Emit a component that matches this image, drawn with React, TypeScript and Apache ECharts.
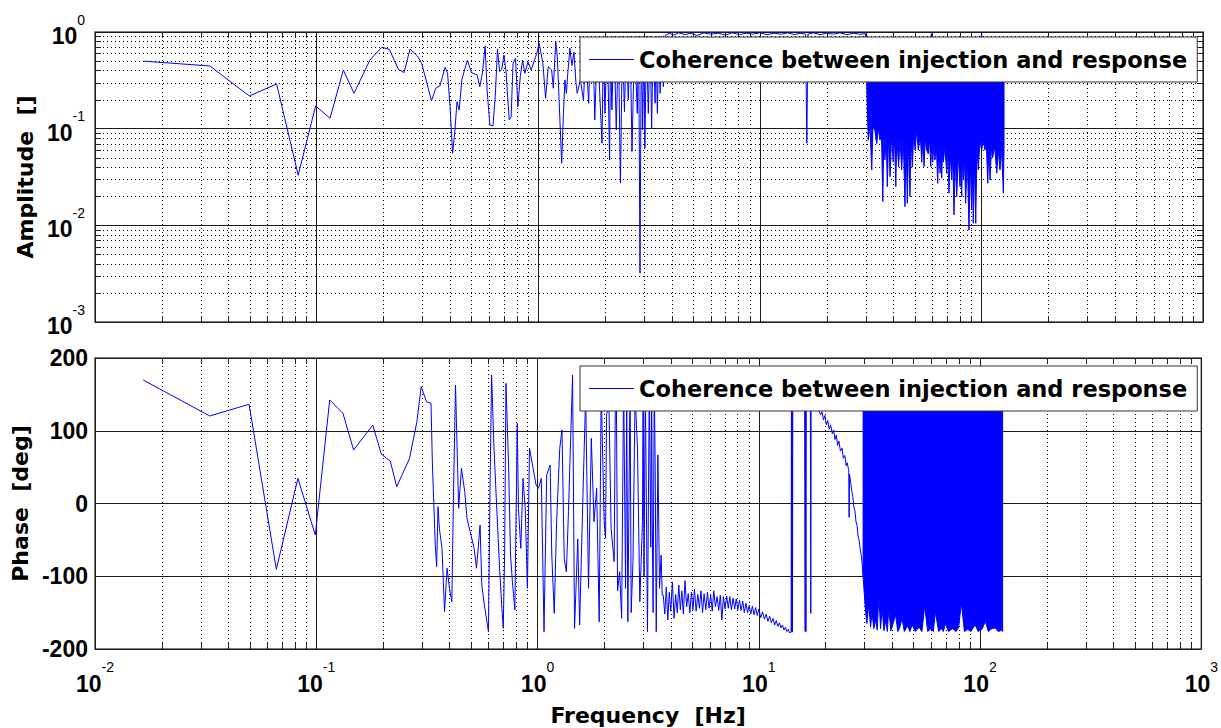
import React, { useEffect, useRef } from 'react';
import * as echarts from 'echarts';

const SERIES_NAME = 'Coherence between injection and response';
const X_TITLE = 'Frequency  [Hz]';
const AMP_TITLE = 'Amplitude  []';
const PHASE_TITLE = 'Phase  [deg]';

// axis ticks
const xDecades = [0.01, 0.1, 1, 10, 100, 1000];
const ampDecades = [0.001, 0.01, 0.1, 1];
const minorFactors = [2, 3, 4, 5, 6, 7, 8, 9];
const phaseRange = [-200, 200];
const phaseStep = 100;

// amplitude (coherence) trace: [frequency Hz, amplitude]
const amplitudeTrace: [number, number][] = [
  [0.0165, 0.5], [0.033, 0.445], [0.0497, 0.218], [0.066, 0.29], [0.0826, 0.033], [0.099, 0.172],
  [0.115, 0.128], [0.132, 0.405], [0.1475, 0.232], [0.174, 0.513], [0.197, 0.695], [0.213, 0.662],
  [0.234, 0.411], [0.248, 0.38], [0.264, 0.667], [0.285, 0.565], [0.298, 0.474], [0.33, 0.195],
  [0.345, 0.262], [0.36, 0.277], [0.38, 0.431], [0.39, 0.374], [0.4, 0.169], [0.411, 0.0557],
  [0.421, 0.097], [0.43, 0.19], [0.44, 0.156], [0.452, 0.319], [0.479, 0.513], [0.5, 0.38],
  [0.53, 0.36], [0.545, 0.272], [0.56, 0.374], [0.576, 0.717], [0.588, 0.252], [0.605, 0.109],
  [0.625, 0.107], [0.64, 0.215], [0.655, 0.662], [0.67, 0.389], [0.685, 0.411], [0.7, 0.578],
  [0.715, 0.405], [0.74, 0.123], [0.755, 0.133], [0.77, 0.474], [0.79, 0.535], [0.81, 0.169],
  [0.83, 0.345], [0.85, 0.513], [0.87, 0.374], [0.9, 0.493], [0.93, 0.405], [0.985, 0.6],
  [1.01, 0.764], [1.05, 0.474], [1.08, 0.206], [1.11, 0.438], [1.15, 0.405], [1.17, 0.262],
  [1.2, 0.794], [1.22, 0.555], [1.276, 0.0439], [1.3, 0.144], [1.32, 0.319], [1.34, 0.232],
  [1.36, 0.374], [1.39, 0.678], [1.42, 0.45], [1.45, 0.62], [1.48, 0.3], [1.5, 0.232], [1.55, 0.32],
  [1.6, 0.198], [1.64, 0.6], [1.69, 0.183], [1.72, 0.88], [1.78, 0.4], [1.8, 0.123], [1.85, 0.8],
  [1.94, 0.0707], [1.97, 0.85], [2.0, 0.144], [2.05, 0.9], [2.1, 0.0474], [2.12, 0.8], [2.15, 0.156],
  [2.2, 0.9], [2.25, 0.097], [2.3, 0.85], [2.35, 0.0273], [2.4, 0.9], [2.45, 0.15], [2.5, 0.85],
  [2.55, 0.198], [2.6, 0.9], [2.65, 0.058], [2.72, 0.88], [2.8, 0.144], [2.84, 0.9], [2.88, 0.0032],
  [2.92, 0.9], [2.96, 0.097], [3.0, 0.85], [3.03, 0.063], [3.08, 0.9], [3.14, 0.144], [3.2, 0.9],
  [3.25, 0.101], [3.3, 0.85], [3.37, 0.183], [3.4, 0.9], [3.45, 0.144], [3.5, 0.9], [3.55, 0.232],
  [3.6, 0.9], [3.67, 0.272], [3.75, 0.92], [3.9, 0.97], [4.1, 0.93], [4.3, 0.98], [4.6, 0.94],
  [4.9, 0.97], [5.2, 0.92], [5.6, 0.98], [6.0, 0.95], [6.5, 0.97], [7.0, 0.93], [7.5, 0.98],
  [8.1, 0.94], [8.7, 0.97], [9.3, 0.95], [10, 0.98], [10.8, 0.94], [11.6, 0.97], [12.5, 0.95],
  [13.4, 0.98], [14.3, 0.94], [15.2, 0.97], [16.1, 0.95], [16.3, 0.0706], [16.5, 0.95], [17.5, 0.98],
  [18.7, 0.94], [20, 0.97], [21.5, 0.95], [23, 0.98], [24.7, 0.94], [26.5, 0.97], [28.3, 0.95],
  [30, 0.96], [30.6, 0.14],
];

// dense amplitude region (30-127 Hz): upper and lower envelopes
const amplitudeBandTop: [number, number][] = [
  [30.6, 0.86], [59.0, 0.86], [59.5, 0.96], [60.0, 0.86], [99.5, 0.86], [100.2, 0.97], [100.8, 0.86], [126.5, 0.86],
];
const amplitudeBandBottom: [number, number][] = [
  [30.6, 0.14], [30.9, 0.076], [31.4, 0.11], [32.0, 0.0374], [32.4, 0.105], [33.1, 0.095], [33.7, 0.07],
  [34.3, 0.1], [34.9, 0.076], [35.4, 0.095], [35.9, 0.0176], [36.3, 0.09], [36.7, 0.0475], [37.2, 0.09],
  [37.6, 0.0251], [38.2, 0.09], [38.7, 0.0319], [39.3, 0.085], [40.0, 0.045], [40.5, 0.09], [41.1, 0.0251],
  [41.5, 0.085], [42.3, 0.04], [42.9, 0.08], [43.7, 0.0374], [44.4, 0.085], [45.2, 0.0156], [45.7, 0.08],
  [46.3, 0.0169], [46.9, 0.075], [47.6, 0.0198], [48.2, 0.08], [48.8, 0.04], [49.5, 0.09], [50.2, 0.06],
  [51.0, 0.095], [51.9, 0.06], [53.0, 0.085], [53.8, 0.045], [54.5, 0.08], [55.1, 0.0405], [55.8, 0.08],
  [56.6, 0.06], [57.6, 0.055], [58.3, 0.08], [59.1, 0.0405], [59.7, 0.075], [60.3, 0.045], [61.0, 0.07],
  [61.7, 0.0475], [62.6, 0.07], [63.5, 0.0272], [64.3, 0.065], [65.1, 0.0346], [65.7, 0.065], [66.2, 0.0307],
  [66.8, 0.06], [67.3, 0.045], [68.5, 0.065], [69.7, 0.0346], [70.5, 0.06], [71.4, 0.0215], [72.4, 0.055],
  [73.5, 0.0295], [74.3, 0.055], [75.2, 0.0128], [76.3, 0.05], [77.4, 0.0198], [78.7, 0.055], [80.1, 0.0251],
  [80.8, 0.05], [81.5, 0.0198], [82.2, 0.05], [82.9, 0.03], [83.9, 0.05], [84.9, 0.0169], [86.4, 0.05],
  [87.9, 0.0089], [89.1, 0.045], [90.4, 0.0144], [91.1, 0.045], [91.9, 0.0105], [93.1, 0.045], [94.3, 0.0105],
  [95.5, 0.065], [96.8, 0.0374], [98.5, 0.075], [100.3, 0.06], [102.0, 0.075], [103.8, 0.06], [105.3, 0.07],
  [106.8, 0.0272], [108.1, 0.065], [109.4, 0.0295], [111.0, 0.065], [112.4, 0.05], [114.8, 0.065],
  [117.3, 0.0346], [119.3, 0.06], [121.3, 0.0374], [123.4, 0.06], [125.6, 0.0215], [126.5, 0.06],
];

// phase trace: [frequency Hz, phase deg]
const phaseTrace: [number, number][] = [
  [0.0165, 169.8], [0.033, 120.3], [0.0497, 136.4], [0.066, -90.5], [0.0826, 34.6], [0.099, -43.3],
  [0.115, 142.3], [0.132, 124], [0.1475, 73.5], [0.18, 107.9], [0.197, 67.6], [0.216, 58.4],
  [0.231, 23.1], [0.264, 62.1], [0.285, 112.4], [0.298, 160.6], [0.315, 139.9], [0.33, 137.7],
  [0.335, 52.9], [0.345, -57], [0.35, -86.8], [0.355, -4.4], [0.36, -34.1], [0.37, -61.6],
  [0.38, -148.7], [0.39, -89], [0.4, -116.6], [0.41, -135], [0.417, 11.7], [0.426, 162.9],
  [0.43, 112.4], [0.44, -6.6], [0.453, 48.4], [0.469, 16.2], [0.48, -20.3], [0.496, -38.8],
  [0.517, -61.6], [0.53, -89], [0.55, -29.6], [0.56, -112], [0.575, -139.5], [0.6, -176.2],
  [0.61, 20.9], [0.62, 176.6], [0.635, 80.4], [0.65, 11.7], [0.675, -93.8], [0.69, -144.1],
  [0.7, -171.6], [0.71, -70.8], [0.72, 165.2], [0.74, 52.9], [0.755, -70.8], [0.77, -107.5],
  [0.79, -146.4], [0.81, 110.2], [0.82, -6.6], [0.84, -61.6], [0.86, 34.6], [0.88, -6.6],
  [0.9, -116.6], [0.92, 75.9], [0.985, 25.4], [1.01, 20.9], [1.04, 34.6], [1.07, -176.2],
  [1.1, 39.2], [1.14, 52.9], [1.16, -70.8], [1.19, -151], [1.22, -25], [1.26, 75.9], [1.29, 101],
  [1.32, -75.3], [1.35, -93.8], [1.38, -11.3], [1.44, 176.6], [1.47, -171.6], [1.52, -48.8],
  [1.55, -167], [1.6, -2], [1.65, 149.1], [1.7, -116.6], [1.75, 89.6], [1.8, -25], [1.85, 20.9],
  [1.9, -162.5], [1.94, 158.4], [2.0, -25], [2.03, -47.8], [2.05, 120], [2.1, 144.6], [2.15, -34.1],
  [2.22, -80], [2.25, 160], [2.27, 170], [2.3, -120], [2.35, -93.8], [2.4, -157.8], [2.45, 170],
  [2.5, -116.6], [2.53, 150], [2.56, -162.5], [2.62, 170], [2.65, -150], [2.7, -80], [2.76, 150],
  [2.83, 75.9], [2.9, -135], [2.98, -25], [3.0, 160], [3.03, -100], [3.07, 170], [3.14, -176.2],
  [3.2, 170], [3.25, -60], [3.28, 165], [3.3, -25], [3.33, -150], [3.37, 170], [3.4, 60],
  [3.44, -176.2], [3.5, 66.7], [3.56, -116.6], [3.62, -70.8], [3.66, -126],
  [3.7, -126], [3.76, -152], [3.82, -115], [3.88, -160], [3.94, -122], [4.0, -148], [4.07, -108],
  [4.14, -158], [4.21, -125], [4.28, -150], [4.35, -112], [4.42, -146], [4.49, -120], [4.56, -152],
  [4.64, -106], [4.72, -142], [4.8, -124], [4.88, -150], [4.96, -122], [5.04, -146], [5.12, -118],
  [5.21, -148], [5.3, -125], [5.39, -144], [5.48, -120], [5.57, -150], [5.66, -124], [5.76, -146],
  [5.86, -122], [5.96, -144], [6.06, -126], [6.16, -148], [6.26, -120], [6.37, -142], [6.48, -128],
  [6.59, -147], [6.7, -126], [6.81, -160], [6.92, -128], [7.04, -145], [7.16, -127], [7.28, -144],
  [7.4, -128], [7.52, -146], [7.65, -130], [7.78, -145], [7.91, -131], [8.04, -146], [8.18, -133],
  [8.32, -147], [8.46, -134], [8.6, -150], [8.75, -137], [8.9, -150], [9.05, -140], [9.2, -152],
  [9.36, -141], [9.52, -153], [9.68, -143], [9.84, -154], [10.0, -145], [10.2, -157], [10.4, -149],
  [10.6, -159], [10.8, -152], [11.0, -162], [11.2, -155], [11.4, -164], [11.6, -158], [11.8, -167],
  [12.0, -161], [12.2, -169], [12.4, -164], [12.6, -171], [12.8, -167], [13.0, -174], [13.2, -170],
  [13.4, -176], [13.6, -173], [13.8, -178], [14.0, -176], [14.05, 178], [14.1, -177], [14.15, 179],
  [14.2, -176], [14.25, 178], [15.0, 172], [16.1, 166], [16.2, -176], [16.27, 168], [16.33, -176],
  [16.4, 166], [17.1, 160], [17.18, -151], [17.25, 158], [18.0, 140], [18.7, 128], [19.0, 122],
  [19.3, 126], [19.6, 115], [19.9, 121], [20.2, 108], [20.5, 114], [20.8, 102], [21.1, 108],
  [21.5, 96], [21.8, 101], [22.1, 88], [22.4, 94], [22.7, 80], [23.0, 86], [23.4, 72], [23.8, 76],
  [24.1, 62], [24.5, 66], [24.8, 52], [25.1, 56], [25.5, 45], [25.6, -19], [25.7, 40], [26.0, 30],
  [26.3, 18], [26.6, 10], [26.9, -5], [27.2, -10], [27.5, -25], [27.8, -30], [28.1, -45], [28.4, -50],
  [28.7, -62], [29.0, -70], [29.3, -82], [29.6, -100],
];

// dense phase region (30-127 Hz): upper and lower envelopes
const phaseBandTop: [number, number][] = [[29.6, 179], [126.5, 179]];
const phaseBandBottom: [number, number][] = [
  [29.6, -100], [30.0, -125], [30.4, -150], [30.8, -165], [31.4, -139], [32.0, -170], [32.5, -150],
  [33.1, -172], [33.7, -160], [34.3, -174], [34.9, -126], [35.5, -172], [36.1, -145], [36.8, -175],
  [37.5, -160], [38.1, -176], [38.7, -144], [39.5, -175], [40.5, -165], [41.5, -153], [42.5, -176],
  [43.4, -170], [44.4, -158], [45.5, -176], [47.0, -168], [48.2, -176], [49.3, -167], [51.0, -176],
  [53.0, -170], [54.6, -176], [56.2, -141], [58.0, -176], [60.0, -172], [61.5, -176], [62.8, -149],
  [65.0, -176], [67.0, -172], [68.3, -176], [69.7, -165], [72.0, -176], [75.0, -172], [78.0, -176],
  [80.0, -170], [82.3, -137], [85.0, -176], [88.0, -173], [91.0, -176], [93.0, -171], [95.2, -167],
  [98.0, -176], [102.0, -173], [105.7, -162], [109.0, -176], [113.0, -172], [117.3, -171],
  [121.0, -176], [125.6, -174], [126.5, -176],
];

const BLUE = '#0000ff';
const TICK_FONT = 'Liberation Sans';
const TEXT_FONT = 'DejaVu Sans';

const minorX = xDecades.slice(0, -1).flatMap((d) => minorFactors.map((m) => d * m));
const minorAmp = ampDecades.slice(0, -1).flatMap((d) => minorFactors.map((m) => d * m));

const logLabel = (v: number) => `{b|10}{s|${Math.round(Math.log10(v))}}`;
const logRich = {
  b: { fontFamily: TICK_FONT, fontWeight: 'bold', fontSize: 23, color: '#000', verticalAlign: 'top', padding: [12, 0, 0, 0] },
  s: { fontFamily: TICK_FONT, fontSize: 14, color: '#000', verticalAlign: 'top' },
};

const dotted = { stroke: '#000', lineWidth: 1, lineDash: [1, 3] };
const solidTick = { stroke: '#222', lineWidth: 1 };

function verticalMinor(gridIdx: number, yMin: number, yMax: number) {
  return {
    type: 'custom',
    xAxisIndex: gridIdx,
    yAxisIndex: gridIdx,
    silent: true,
    clip: false,
    z: 1,
    data: minorX.map((v) => [v, yMin]),
    renderItem: (_p: any, api: any) => {
      const v = api.value(0);
      const b = api.coord([v, yMin]);
      const t = api.coord([v, yMax]);
      const x = Math.round(b[0]) + 0.5;
      return {
        type: 'group',
        children: [
          { type: 'line', shape: { x1: x, y1: t[1], x2: x, y2: b[1] }, style: dotted },
          { type: 'line', shape: { x1: x, y1: b[1], x2: x, y2: b[1] - 6 }, style: solidTick },
          { type: 'line', shape: { x1: x, y1: t[1], x2: x, y2: t[1] + 6 }, style: solidTick },
        ],
      };
    },
  };
}

function horizontalMinor() {
  const xMin = xDecades[0];
  const xMax = xDecades[xDecades.length - 1];
  return {
    type: 'custom',
    xAxisIndex: 0,
    yAxisIndex: 0,
    silent: true,
    clip: false,
    z: 1,
    data: minorAmp.map((v) => [xMin, v]),
    renderItem: (_p: any, api: any) => {
      const v = api.value(1);
      const l = api.coord([xMin, v]);
      const r = api.coord([xMax, v]);
      const y = Math.round(l[1]) + 0.5;
      return {
        type: 'group',
        children: [
          { type: 'line', shape: { x1: l[0], y1: y, x2: r[0], y2: y }, style: dotted },
          { type: 'line', shape: { x1: l[0], y1: y, x2: l[0] + 6, y2: y }, style: solidTick },
          { type: 'line', shape: { x1: r[0], y1: y, x2: r[0] - 6, y2: y }, style: solidTick },
        ],
      };
    },
  };
}

function band(gridIdx: number, top: [number, number][], bottom: [number, number][]) {
  return {
    type: 'custom',
    xAxisIndex: gridIdx,
    yAxisIndex: gridIdx,
    silent: true,
    z: 3,
    data: [top[0]],
    renderItem: (_p: any, api: any) => {
      const pts = [...top, ...bottom.slice().reverse()].map((p) => api.coord(p));
      return {
        type: 'polygon',
        shape: { points: pts },
        style: { fill: BLUE, stroke: BLUE, lineWidth: 1 },
      };
    },
  };
}

const legendBase = {
  data: [SERIES_NAME],
  left: 580,
  selectedMode: false,
  backgroundColor: '#fff',
  borderColor: '#333',
  borderWidth: 1,
  padding: [9, 10, 9, 9],
  itemWidth: 45,
  itemHeight: 1,
  icon: 'rect',
  textStyle: { fontFamily: TEXT_FONT, fontWeight: 'bold', fontSize: 22.5, color: '#000', lineHeight: 27 },
  z: 10,
};

const titleStyle = { fontFamily: TEXT_FONT, fontWeight: 'bold', fontSize: 22, color: '#000' };

function buildOption() {
  const splitSolid = { show: true, lineStyle: { color: '#1a1a1a', width: 1 } };
  return {
    animation: false,
    backgroundColor: '#fff',
    grid: [
      { left: 95, top: 32, width: 1108, height: 290, show: true, borderColor: '#555', borderWidth: 1.5, backgroundColor: 'transparent' },
      { left: 95, top: 358, width: 1108, height: 291, show: true, borderColor: '#555', borderWidth: 1.5, backgroundColor: 'transparent' },
    ],
    legend: [
      { ...legendBase, top: 37 },
      { ...legendBase, top: 366 },
    ],
    xAxis: [
      {
        type: 'log', logBase: 10, gridIndex: 0, min: xDecades[0], max: xDecades[xDecades.length - 1],
        axisLine: { show: false }, axisTick: { show: false }, axisLabel: { show: false }, splitLine: splitSolid,
      },
      {
        type: 'log', logBase: 10, gridIndex: 1, min: xDecades[0], max: xDecades[xDecades.length - 1],
        axisLine: { show: false }, axisTick: { show: false }, splitLine: splitSolid,
        axisLabel: { formatter: logLabel, rich: logRich, margin: 11, hideOverlap: false, showMinLabel: true, showMaxLabel: true },
        name: X_TITLE, nameLocation: 'middle', nameGap: 55, nameTextStyle: titleStyle,
      },
    ],
    yAxis: [
      {
        type: 'log', logBase: 10, gridIndex: 0, min: ampDecades[0], max: ampDecades[ampDecades.length - 1],
        axisLine: { show: false }, axisTick: { show: false }, splitLine: splitSolid,
        axisLabel: { formatter: logLabel, rich: logRich, margin: 10, padding: [0, 0, 4, 0], hideOverlap: false, showMinLabel: true, showMaxLabel: true },
        name: AMP_TITLE, nameLocation: 'middle', nameGap: 49, nameRotate: 90, nameTextStyle: titleStyle,
      },
      {
        type: 'value', gridIndex: 1, min: phaseRange[0], max: phaseRange[1], interval: phaseStep,
        axisLine: { show: false }, axisTick: { show: false }, splitLine: splitSolid,
        axisLabel: { fontFamily: TICK_FONT, fontWeight: 'bold', fontSize: 23, color: '#000', margin: 7 },
        name: PHASE_TITLE, nameLocation: 'middle', nameGap: 58, nameRotate: 90, nameTextStyle: titleStyle,
      },
    ],
    series: [
      verticalMinor(0, ampDecades[0], ampDecades[ampDecades.length - 1]),
      horizontalMinor(),
      verticalMinor(1, phaseRange[0], phaseRange[1]),
      band(0, amplitudeBandTop, amplitudeBandBottom),
      band(1, phaseBandTop, phaseBandBottom),
      {
        name: SERIES_NAME, type: 'line', xAxisIndex: 0, yAxisIndex: 0, data: amplitudeTrace,
        symbol: 'none', showSymbol: false, z: 4, lineStyle: { color: BLUE, width: 1 }, itemStyle: { color: BLUE },
      },
      {
        name: SERIES_NAME, type: 'line', xAxisIndex: 1, yAxisIndex: 1, data: phaseTrace,
        symbol: 'none', showSymbol: false, z: 4, lineStyle: { color: BLUE, width: 1 }, itemStyle: { color: BLUE },
      },
    ],
  };
}

export default function App() {
  const ref = useRef<HTMLDivElement>(null);
  useEffect(() => {
    const chart = echarts.init(ref.current!, null, { renderer: 'svg' });
    chart.setOption(buildOption() as any);
    return () => chart.dispose();
  }, []);
  return (
    <div
      ref={ref}
      style={{ position: 'absolute', left: 0, top: 0, width: 1221, height: 728, background: '#fff' }}
    />
  );
}
